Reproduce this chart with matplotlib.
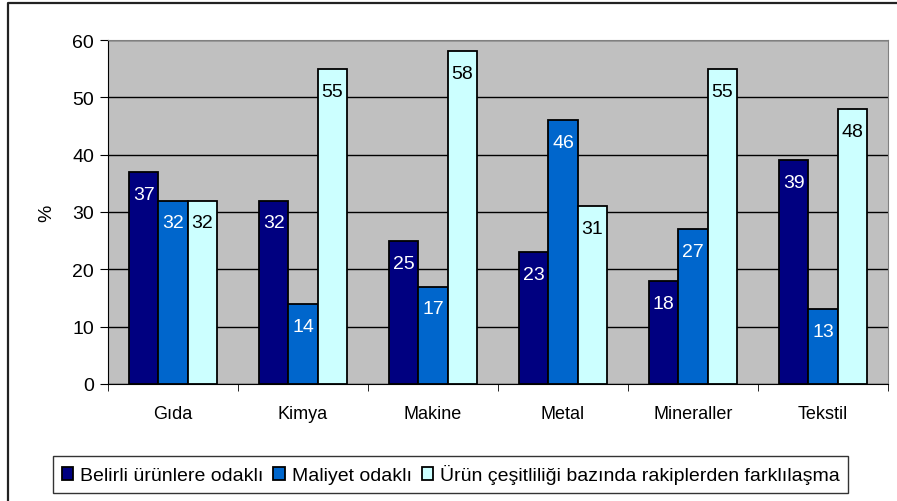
import numpy as np
import matplotlib.pyplot as plt
from matplotlib.lines import Line2D

plt.rcParams['font.family'] = ['Liberation Sans', 'DejaVu Sans']

sektorler = ['Gıda', 'Kimya', 'Makine', 'Metal', 'Mineraller', 'Tekstil']
belirli = [37, 32, 25, 23, 18, 39]
maliyet = [32, 14, 17, 46, 27, 13]
urun = [32, 55, 58, 31, 55, 48]
seriler = ['Belirli ürünlere odaklı', 'Maliyet odaklı',
           'Ürün çeşitliliği bazında rakiplerden farklılaşma']
renkler = ['#000080', '#0066CC', '#CCFFFF']
yazi_renk = ['white', 'white', 'black']

fig = plt.figure(figsize=(8.97, 5.02), dpi=100)
# cerceve (sadece sol ve ust kenar gorunuyor)
fig.lines.append(Line2D([7.5/897, 7.5/897, 1], [0, 1 - 3.5/502, 1 - 3.5/502],
                        transform=fig.transFigure, color='#222222', linewidth=1.6))
ax = fig.add_axes([108/897, 1 - 385/502, 780/897, 344/502])
ax.set_facecolor('#C0C0C0')

x = np.arange(len(sektorler))
w = 0.225
for i, (vals, c, tc) in enumerate(zip([belirli, maliyet, urun], renkler, yazi_renk)):
    pos = x + (i - 1) * w
    bars = ax.bar(pos, vals, width=w, color=c, edgecolor='black', linewidth=1.3,
                  label=seriler[i], zorder=3)
    for b, v in zip(bars, vals):
        ax.annotate(str(v), (b.get_x() + b.get_width() / 2, v), xytext=(0, -10),
                    textcoords='offset points', ha='center', va='top',
                    color=tc, fontsize=14, zorder=4)

ax.set_xlim(-0.5, len(sektorler) - 0.5)
ax.set_ylim(0, 60)
ax.set_yticks(range(0, 61, 10))
ax.yaxis.grid(True, color='black', linewidth=1)
ax.set_axisbelow(True)
ax.set_xticks(x)
ax.set_xticklabels(sektorler, fontsize=13)
ax.set_xticks(np.arange(-0.5, len(sektorler)), minor=True)
ax.tick_params(axis='x', which='major', length=0, pad=15)
ax.tick_params(axis='x', which='minor', length=5, direction='out')
ax.tick_params(axis='y', labelsize=14, length=6, direction='out', pad=4)
ax.set_ylabel('%', fontsize=14, labelpad=12)
for s in ['top', 'right']:
    ax.spines[s].set_color('#808080')
for s in ['left', 'bottom']:
    ax.spines[s].set_color('black')

leg = fig.legend(loc='lower left', bbox_to_anchor=(53/897, 1 - 494/502), ncol=3,
                 fontsize=14, frameon=True, fancybox=False, edgecolor='black',
                 handlelength=0.6, handleheight=0.6, handletextpad=0.35,
                 columnspacing=0.5, borderpad=0.45, borderaxespad=0)
leg.get_frame().set_linewidth(1)

fig.savefig('out.png', dpi=100)
